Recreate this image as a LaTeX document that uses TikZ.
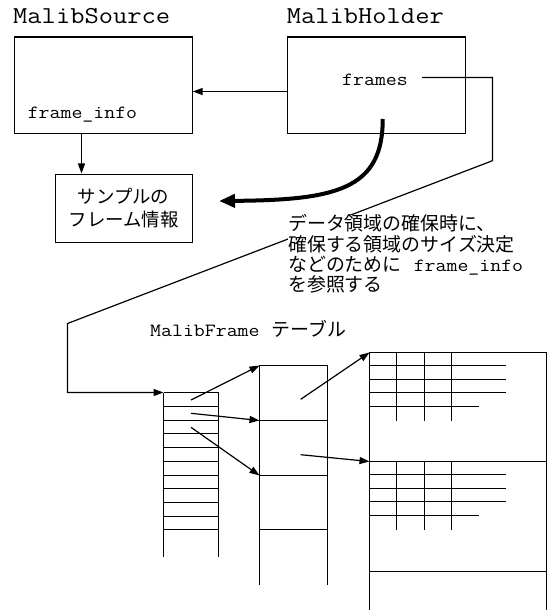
\documentclass[tikz,border=0pt]{standalone}
\usepackage{fontspec}
\setmonofont{Latin Modern Mono}[FakeStretch=1.14]
\newfontfamily\jp{Noto Sans CJK JP}
\usetikzlibrary{arrows.meta,calc}
\begin{document}
\begin{tikzpicture}[x=1bp,y=-1bp,
  ln/.style={line width=1.2bp},
  arr/.style={ln,-{Triangle[length=10bp,width=7bp]}},
  bigarr/.style={line width=4bp,-{Triangle[length=16bp,width=13bp]}},
  box/.style={draw,line width=1.2bp,inner sep=0,anchor=north west},
  titletext/.style={font=\ttfamily\fontsize{24.4}{26}\selectfont,inner sep=0,anchor=base west},
  codetext/.style={font=\ttfamily\fontsize{18.7}{20}\selectfont,inner sep=0,anchor=base west},
]
\useasboundingbox (0,0) rectangle (554,610);

% boxes
\node[box,minimum width=178bp,minimum height=96bp] (src) at (13.5,36.5) {};
\node[box,minimum width=178bp,minimum height=96bp] (holder) at (286.5,36.5) {};
\node[box,minimum width=137bp,minimum height=68bp,align=center,
      font=\jp\fontsize{18.5}{22.3}\selectfont] (sample) at (54.5,173.5) {サンプルの\\フレーム情報};

% labels
\node[titletext] (srct) at (13,24) {MalibSource};
\node[titletext] (holdt) at (286.6,24) {MalibHolder};
\node[codetext] (frames) at (342,85.7) {frames};
\node[codetext] (finfo) at (27.6,118.5) {frame\_info};
\node[codetext] (mft) at (150,336.7) {MalibFrame\hspace{12bp}{\jp\fontsize{19}{20}\selectfont テーブル}};

% helper coordinates
\coordinate (ya) at (0,91.5);
\coordinate (xb) at (81.5,0);
\coordinate (fe) at ([xshift=14bp]frames.east);
\coordinate (c1) at (492.5,77.5);
\coordinate (c2) at (492.5,160.7);
\coordinate (c3) at (67.5,323.5);
\coordinate (c4) at (67.5,392.5);
\coordinate (cs) at (382.7,119);
\coordinate (ce) at (219,201);

\coordinate (t1nw) at (163.5,392.5);
\coordinate (t2a) at (259.5,365.5);
\coordinate (t2b) at (259.5,420.5);
\coordinate (t2c) at (259.5,475.5);
\coordinate (t3a) at (369.5,352.5);
\coordinate (t3b) at (369.5,461.5);
\coordinate (r1) at (191,400);
\coordinate (r2) at (191,413.3);
\coordinate (r3) at (191,427.3);
\coordinate (s1) at (300.7,399.3);
\coordinate (s2) at (300.7,454.7);

% connectors
\draw[arr] (holder.west |- ya) -- (src.east |- ya);
\draw[arr] (src.south -| xb) -- (sample.north -| xb);
\draw[bigarr] (cs) .. controls (383,190) and (335,200) .. (ce);
\draw[arr] (fe |- c1) -- (c1) -- (c2) -- (c3) -- (c4) -- (t1nw);

% note (covers the long connector)
\node[fill=white,inner sep=0,anchor=north west,align=left,
      font=\jp\fontsize{19}{20.3}\selectfont] (note) at (288,214.5)
  {データ領域の確保時に、\\確保する領域のサイズ決定\\などのために\hspace{12bp}{\ttfamily\fontsize{18.7}{20.3}\selectfont frame\_info}\\を参照する};

% table 1
\foreach \y in {392.5,406.5,420.5,433.5,447.5,461.5,475.5,488.5,502.5,516.5,529.5}
  \draw[ln] (163.5,\y) -- (218.5,\y);
\draw[ln] (163.5,392.5) -- (163.5,556.5);
\draw[ln] (218.5,392.5) -- (218.5,556.5);

% table 2
\draw[ln] (259.5,584.5) -- (259.5,365.5) -- (327.5,365.5) -- (327.5,584.5);
\foreach \y in {420.5,475.5,529.5} \draw[ln] (259.5,\y) -- (327.5,\y);

% table 3
\draw[ln] (369.5,610) -- (369.5,352.5) -- (546.5,352.5) -- (546.5,610);
\foreach \y in {461.5,571.5} \draw[ln] (369.5,\y) -- (546.5,\y);
\foreach \s in {352.5,461.5} {
  \foreach \x in {396.5,424.5,451.5} \draw[ln] (\x,\s) -- (\x,{\s+68});
  \foreach \d in {13,27,40} \draw[ln] (369.5,{\s+\d}) -- (506,{\s+\d});
  \draw[ln] (369.5,{\s+54}) -- (478.5,{\s+54});
}

% table arrows
\draw[arr] (r1) -- (t2a);
\draw[arr] (r2) -- (t2b);
\draw[arr] (r3) -- (t2c);
\draw[arr] (s1) -- (t3a);
\draw[arr] (s2) -- (t3b);
\end{tikzpicture}
\end{document}
